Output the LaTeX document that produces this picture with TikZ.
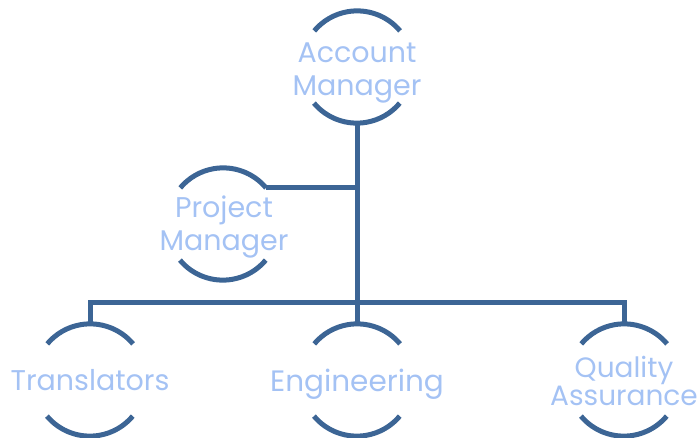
\documentclass[tikz,border=0pt]{standalone}
\usepackage{fontspec}
\setmainfont{Poppins}
\definecolor{linec}{HTML}{3C6595}
\definecolor{textc}{HTML}{A4C2F4}
\begin{document}
\begin{tikzpicture}[x=1pt,y=1pt,
  ring/.style={circle,minimum size=112pt,inner sep=0pt},
  lbl/.style={text=textc,align=center,font=\fontsize{28.5}{33}\selectfont,inner sep=0pt},
  conn/.style={draw=linec,line width=5pt},
  arcs/.style={draw=linec,line width=5pt}]
\useasboundingbox (0,0) rectangle (698,437);
\node[ring] (am) at (357,370) {};
\node[ring] (pm) at (223,213) {};
\node[ring] (tr) at (90,57) {};
\node[ring] (en) at (357,57) {};
\node[ring] (qa) at (624,57) {};
\foreach \n in {am,pm,tr,en,qa}{
  \draw[arcs] (\n.40) arc[start angle=40,end angle=140,radius=56pt];
  \draw[arcs] (\n.220) arc[start angle=220,end angle=320,radius=56pt];
}
\coordinate (bus) at (357,135);
\draw[conn] (am.south) -- (en.north);
\draw[conn] (pm.40) -- (pm.40 -| am.south);
\draw[conn] (tr.north) |- (bus) -| (qa.north);
\node[lbl] (amt) at (357,364) {Account\\Manager};
\node[lbl] (pmt) at (224,210) {Project\\Manager};
\node[lbl] (trt) at (90,57) {Translators};
\node[lbl,font=\fontsize{29.5}{33}\selectfont] (ent) at (357,53) {Engineering};
\node[lbl,font=\fontsize{28}{28}\selectfont] (qat) at (624,56) {Quality\\Assurance};
\end{tikzpicture}
\end{document}
